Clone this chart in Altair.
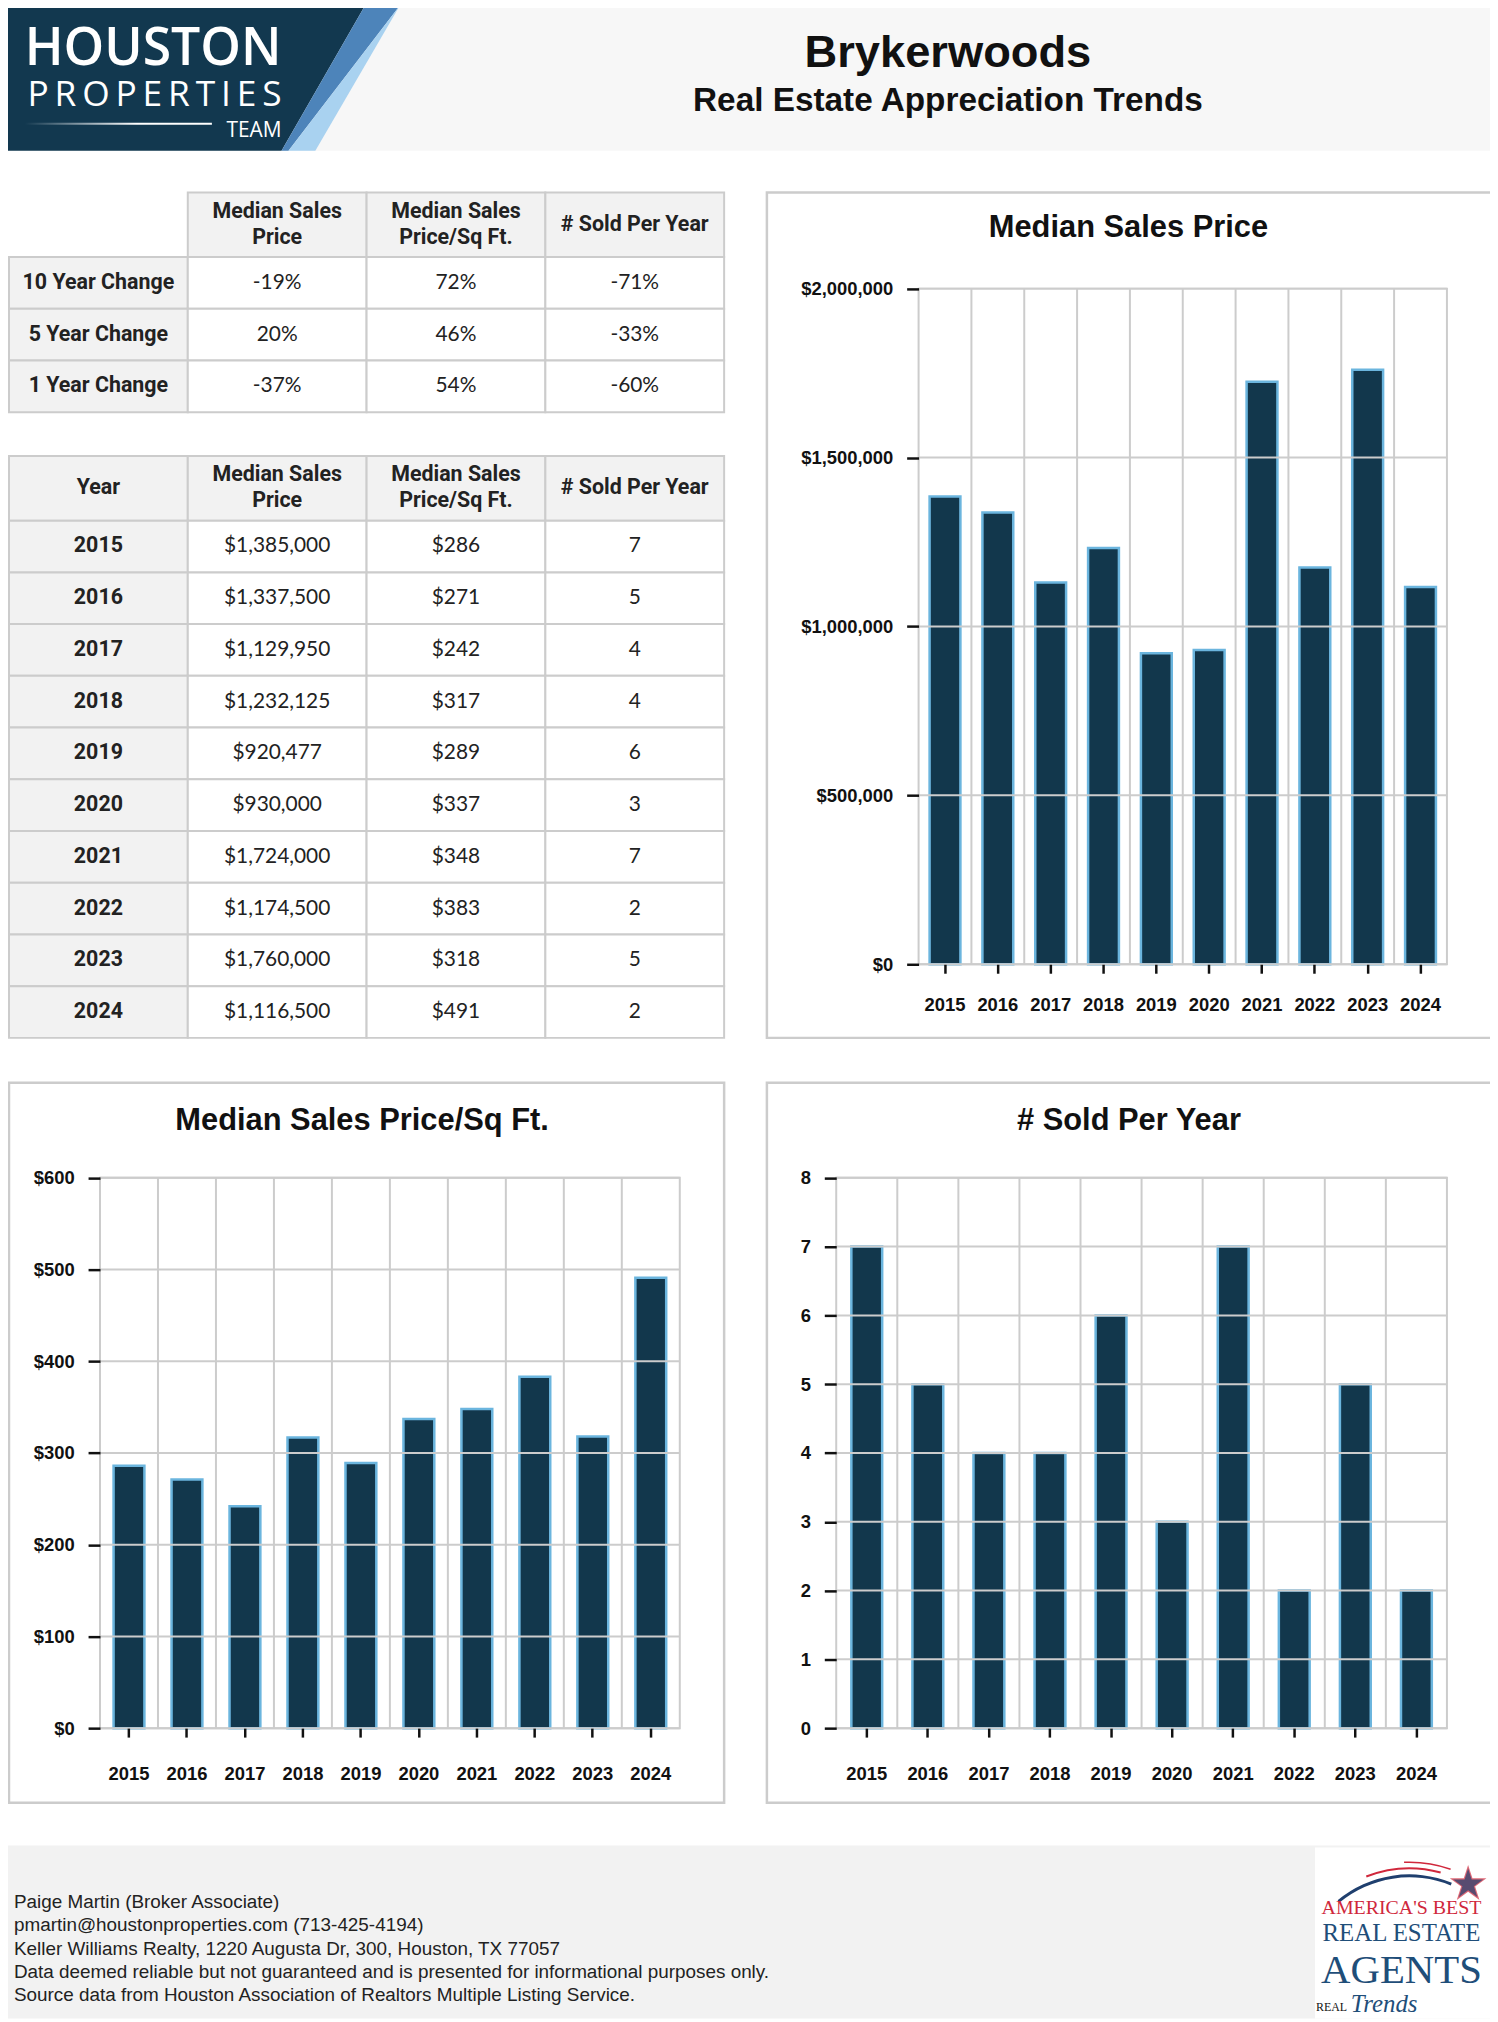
import altair as alt
import pandas as pd

# ---------------- data ----------------
years = ["2015", "2016", "2017", "2018", "2019", "2020", "2021", "2022", "2023", "2024"]
median_sales_price = [1385000, 1337500, 1129950, 1232125, 920477, 930000, 1724000, 1174500, 1760000, 1116500]
median_price_sqft = [286, 271, 242, 317, 289, 337, 348, 383, 318, 491]
sold_per_year = [7, 5, 4, 4, 6, 3, 7, 2, 5, 2]

change_periods = ["10 Year Change", "5 Year Change", "1 Year Change"]
change_price = ["-19%", "20%", "-37%"]
change_price_sqft = ["72%", "46%", "54%"]
change_sold = ["-71%", "-33%", "-60%"]

column_headers = ["Median Sales\nPrice", "Median Sales\nPrice/Sq Ft.", "# Sold Per Year"]

price_ticks = [0, 500000, 1000000, 1500000, 2000000]
sqft_ticks = [0, 100, 200, 300, 400, 500, 600]
sold_ticks = [0, 1, 2, 3, 4, 5, 6, 7, 8]

footer_lines = [
    "Paige Martin (Broker Associate)",
    "pmartin@houstonproperties.com (713-425-4194)",
    "Keller Williams Realty, 1220 Augusta Dr, 300, Houston, TX 77057",
    "Data deemed reliable but not guaranteed and is presented for informational purposes only.",
    "Source data from Houston Association of Realtors Multiple Listing Service.",
]

# ---------------- style / layout ----------------
W, H = 1490, 2014
NAVY = "#12384f"
BAR = "#12374c"
BAR_EDGE = "#6bb5de"
GRID = "#cccccc"
HDR_BG = "#f2f2f2"
TXT = "#222222"
TICK = "#111111"
SANS = "Liberation Sans"
HFONT = "Roboto"
ONE = pd.DataFrame({"k": [0]})


def box(x0, x1, y0, y1, fill="#ffffff", stroke=None, sw=0, fill_opacity=1):
    props = dict(fill=fill, fillOpacity=fill_opacity)
    if stroke:
        props.update(stroke=stroke, strokeWidth=sw)
    return alt.Chart(ONE).mark_rect(**props).encode(
        x=alt.value(x0), x2=alt.value(x1), y=alt.value(y0), y2=alt.value(y1))


def label(text, x, y, size, font=SANS, weight="normal", color=TXT, align="center",
          baseline="alphabetic", **kw):
    return alt.Chart(ONE).mark_text(text=text, font=font, fontSize=size, fontWeight=weight,
                                    color=color, align=align, baseline=baseline, **kw).encode(
        x=alt.value(x), y=alt.value(y))


def poly(ys, xa, xb, color):
    df = pd.DataFrame({"py": ys, "xa": xa, "xb": xb})
    return alt.Chart(df).mark_area(orient="horizontal", color=color).encode(
        y=alt.Y("py:Q", scale=None, axis=None),
        x=alt.X("xa:Q", scale=None, axis=None),
        x2="xb:Q")


layers = []

# ---------------- header ----------------
layers.append(box(-8, W, -8, 138, fill="#f7f7f7"))
layers.append(poly([-8, 138], [-8, -8], [359, 275], NAVY))
layers.append(poly([-8, 138], [359, 275], [394, 282], "#4d84ba"))
layers.append(poly([-8, 138], [394, 282], [394, 309], "#a9d2f0"))
layers.append(label("HOUSTON", 275, 52, 52, font="Open Sans", weight=600, color="white", align="right"))
layers.append(label("P\u2009R\u2009O\u2009P\u2009E\u2009R\u2009T\u2009I\u2009E\u2009S", 275, 93.5, 35.5,
                    font="Open Sans", weight=500, color="white", align="right"))
layers.append(label("TEAM", 275, 124, 21, font="Open Sans", weight=500, color="white", align="right"))
grad = alt.LinearGradient(gradient="linear", x1=0, x2=1, y1=0, y2=0,
                          stops=[alt.GradientStop(color="#12384f", offset=0),
                                 alt.GradientStop(color="#ffffff", offset=0.6),
                                 alt.GradientStop(color="#ffffff", offset=1)])
layers.append(alt.Chart(ONE).mark_rect(fill=grad).encode(
    x=alt.value(17), x2=alt.value(205), y=alt.value(110), y2=alt.value(112)))
layers.append(label("Brykerwoods", 945, 53.5, 45.5, weight="bold", color="#111111"))
layers.append(label("Real Estate Appreciation Trends", 945, 98, 33.5, weight="bold", color="#111111"))

# ---------------- tables ----------------
TX0, TX1 = 1, 720
COLS = ["c0", "c1", "c2", "c3"]
TFS = 21.5


def table(header_cells, header_from, row_labels, value_cols, hy0, hy1, by0, by1):
    xs = alt.Scale(domain=COLS, range=[TX0, TX1], paddingInner=0, paddingOuter=0)
    parts = [h.split("\n") for h in header_cells]
    hdr = pd.DataFrame({"col": COLS[header_from:],
                        "l1": [p[0] for p in parts],
                        "l2": [p[1] if len(p) > 1 else "" for p in parts],
                        "n": [len(p) for p in parts]})
    out = []
    xenc = alt.X("col:N", scale=xs, axis=None)
    hc = (hy0 + hy1) / 2
    out.append(alt.Chart(hdr).mark_rect(fill=HDR_BG, stroke=GRID, strokeWidth=2).encode(
        x=xenc, y=alt.value(hy0), y2=alt.value(hy1)))
    htxt = dict(font=HFONT, fontWeight="bold", fontSize=TFS, color=TXT, baseline="middle")
    out.append(alt.Chart(hdr).transform_filter(alt.datum.n == 2).mark_text(dy=-13, **htxt).encode(
        x=xenc, y=alt.value(hc), text="l1:N"))
    out.append(alt.Chart(hdr).transform_filter(alt.datum.n == 2).mark_text(dy=13, **htxt).encode(
        x=xenc, y=alt.value(hc), text="l2:N"))
    out.append(alt.Chart(hdr).transform_filter(alt.datum.n == 1).mark_text(**htxt).encode(
        x=xenc, y=alt.value(hc), text="l1:N"))
    recs = []
    for i, lab in enumerate(row_labels):
        recs.append({"row": lab, "col": "c0", "text": lab})
        for j, vc in enumerate(value_cols):
            recs.append({"row": lab, "col": COLS[j + 1], "text": vc[i]})
    body = pd.DataFrame(recs)
    ys = alt.Scale(domain=row_labels, range=[by0, by1], paddingInner=0, paddingOuter=0)
    enc = dict(x=xenc, y=alt.Y("row:N", scale=ys, axis=None))
    out.append(alt.Chart(body).mark_rect(stroke=GRID, strokeWidth=2).encode(
        fill=alt.condition(alt.datum.col == "c0", alt.value(HDR_BG), alt.value("#ffffff")), **enc))
    out.append(alt.Chart(body).transform_filter(alt.datum.col == "c0").mark_text(
        font=HFONT, fontWeight="bold", fontSize=TFS, color=TXT).encode(text="text:N", **enc))
    out.append(alt.Chart(body).transform_filter(alt.datum.col != "c0").mark_text(
        font="Lato", fontSize=21, color=TXT).encode(text="text:N", **enc))
    return out


layers += table(column_headers, 1, change_periods,
                [change_price, change_price_sqft, change_sold], 180, 245, 245, 401)
layers += table(["Year"] + column_headers, 0, years,
                [[f"${v:,}" for v in median_sales_price],
                 [f"${v:,}" for v in median_price_sqft],
                 [str(v) for v in sold_per_year]], 445, 510, 510, 1030)


# ---------------- bar charts ----------------
def bar_chart(values, ticks, fmt, x0, x1, y0, y1, title, tx, ty, panel, xpad):
    df = pd.DataFrame({"year": years, "value": values})
    xs = alt.Scale(domain=years, range=[x0, x1], paddingInner=0, paddingOuter=0)
    ys = alt.Scale(domain=[ticks[0], ticks[-1]], range=[y1, y0], nice=False, zero=True)
    out = []
    p0, p1, q0, q1 = panel
    out.append(box(p0, p1, q0, q1, fill="#ffffff", stroke=GRID, sw=2.5, fill_opacity=0))
    out.append(label(title, tx, ty, 31, weight="bold", color="#111111"))
    out.append(box(x0, x1, y0, y1, fill="#ffffff", stroke=GRID, sw=2, fill_opacity=0))
    out.append(alt.Chart(pd.DataFrame({"year": years[1:]})).mark_rule(color=GRID, strokeWidth=2).encode(
        x=alt.X("year:O", scale=xs, bandPosition=0, axis=None),
        y=alt.value(y0), y2=alt.value(y1)))
    out.append(alt.Chart(df).mark_bar(size=31, fill=BAR, stroke=BAR_EDGE, strokeWidth=2.5).encode(
        x=alt.X("year:O", scale=xs,
                axis=alt.Axis(orient="bottom", offset=y1 - H, labelAngle=0, tickSize=9, tickWidth=2.5,
                              tickColor=TICK, labelFont=SANS, labelFontSize=18.5, labelFontWeight="bold",
                              labelColor=TICK, labelPadding=xpad, domain=False, grid=False, title=None,
                              zindex=1)),
        y=alt.Y("value:Q", scale=ys,
                axis=alt.Axis(orient="left", offset=-x0, values=ticks, format=fmt, tickSize=12,
                              tickWidth=2.5, tickColor=TICK, labelFont=SANS, labelFontSize=18.5,
                              labelFontWeight="bold", labelColor=TICK, labelPadding=14, domain=False,
                              grid=False, title=None, labelOverlap=False, labelFlush=False, zindex=1))))
    out.append(alt.Chart(pd.DataFrame({"t": ticks})).mark_rule(color=GRID, strokeWidth=2).encode(
        y=alt.Y("t:Q", scale=ys, axis=None), x=alt.value(x0), x2=alt.value(x1)))
    return out


layers += bar_chart(median_sales_price, price_ticks, "$,.0f", 915.5, 1446.7, 276.7, 956,
                    "Median Sales Price", 1126.5, 225, (763, 1500, 180, 1030), 22)
layers += bar_chart(median_price_sqft, sqft_ticks, "$,.0f", 92.5, 675.4, 1170.7, 1724,
                    "Median Sales Price/Sq Ft.", 356, 1123, (1, 720, 1075, 1799), 28)
layers += bar_chart(sold_per_year, sold_ticks, "d", 832.7, 1446.7, 1170.7, 1724,
                    "# Sold Per Year", 1127, 1123, (763, 1500, 1075, 1799), 28)

# ---------------- footer ----------------
layers.append(box(-8, W, 1842, H + 2, fill="#f2f2f2"))
layers.append(alt.Chart(ONE).mark_text(text=footer_lines, font=SANS, fontSize=19, lineHeight=23.3,
                                       align="left", baseline="alphabetic", color=TXT).encode(
    x=alt.value(6), y=alt.value(1905)))
layers.append(box(1314, W + 2, 1844, H + 2, fill="#ffffff"))
STAR = "M0,-1L0.2245,-0.309L0.951,-0.309L0.363,0.118L0.588,0.809L0,0.382L-0.588,0.809L-0.363,0.118L-0.951,-0.309L-0.2245,-0.309Z"
layers.append(alt.Chart(ONE).mark_arc(radius=113, radius2=110, theta=5.59, theta2=6.67, color="#1f3f6e").encode(
    x=alt.value(1409), y=alt.value(1984)))
layers.append(alt.Chart(ONE).mark_arc(radius=120, radius2=118, theta=5.91, theta2=6.55, color="#d0283c").encode(
    x=alt.value(1409), y=alt.value(1984)))
layers.append(alt.Chart(ONE).mark_arc(radius=126, radius2=124.5, theta=6.24, theta2=6.62, color="#d0283c").encode(
    x=alt.value(1409), y=alt.value(1984)))
layers.append(alt.Chart(ONE).mark_point(shape=STAR, size=1500, filled=True, color="#d0283c").encode(
    x=alt.value(1468), y=alt.value(1881)))
layers.append(alt.Chart(ONE).mark_point(shape=STAR, size=1000, filled=True, color="#1f3f6e").encode(
    x=alt.value(1468), y=alt.value(1881)))
layers.append(label("AMERICA'S BEST", 1401, 1911, 20, font="Liberation Serif", color="#d0283c"))
layers.append(label("REAL ESTATE", 1401, 1938, 25, font="Liberation Serif", color="#1f4e79"))
layers.append(label("AGENTS", 1401, 1980, 41, font="Liberation Serif", color="#1f4e79"))
layers.append(label("REAL", 1315, 2008, 12, font="Liberation Serif", color="#111111", align="left"))
layers.append(label("Trends", 1350, 2009, 25, font="Liberation Serif", color="#1f4e79", align="left",
                    fontStyle="italic"))

chart = alt.layer(*layers).resolve_scale(x="independent", y="independent").properties(
    width=W, height=H, padding=0, autosize=alt.AutoSizeParams(type="none"), background="white"
).configure_view(stroke=None)

chart.save("out.html", embed_options={"renderer": "svg", "actions": False})
